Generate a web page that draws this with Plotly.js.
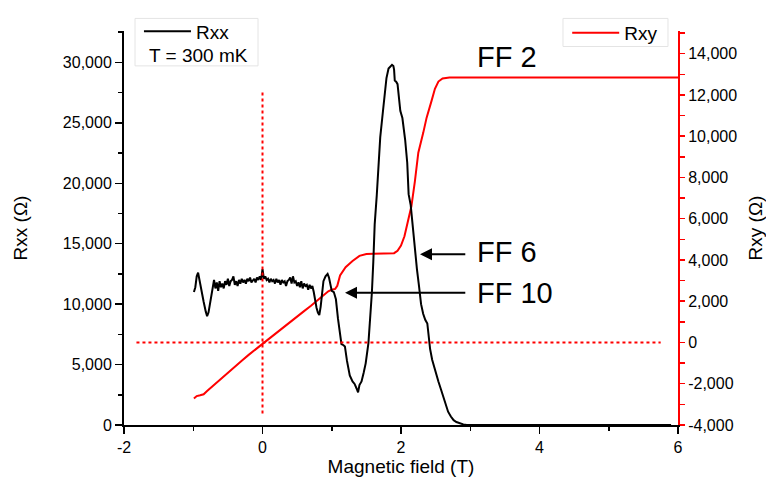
<!DOCTYPE html>
<html>
<head>
<meta charset="utf-8">
<script src="https://cdn.plot.ly/plotly-3.0.1.min.js"></script>
<style>html,body{margin:0;padding:0;background:#fff;}#chart{width:766px;height:492px;}</style>
</head>
<body>
<div id="chart"></div>
<script>
// Magnetic field (T) and Rxx (Ohm)
const rxxField = [-0.99,-0.97,-0.95,-0.93,-0.91,-0.88,-0.85,-0.82,-0.80,-0.78,-0.75,-0.72,-0.70,-0.68,-0.66,-0.64,-0.62,-0.60,-0.58,-0.56,-0.54,-0.52,-0.50,-0.48,-0.46,-0.44,-0.42,-0.40,-0.38,-0.36,-0.34,-0.32,-0.30,-0.28,-0.26,-0.24,-0.22,-0.20,-0.18,-0.16,-0.14,-0.12,-0.10,-0.08,-0.06,-0.04,-0.02,0.00,0.02,0.04,0.06,0.08,0.10,0.12,0.14,0.16,0.18,0.20,0.22,0.24,0.26,0.28,0.30,0.32,0.34,0.36,0.38,0.40,0.42,0.44,0.46,0.48,0.50,0.52,0.54,0.56,0.58,0.60,0.62,0.64,0.66,0.68,0.70,0.72,0.74,0.76,0.78,0.80,0.82,0.84,0.86,0.88,0.91,0.94,0.96,0.98,1.00,1.03,1.06,1.09,1.12,1.14,1.17,1.19,1.22,1.26,1.30,1.33,1.36,1.38,1.40,1.43,1.46,1.49,1.53,1.56,1.58,1.60,1.62,1.65,1.67,1.70,1.74,1.77,1.79,1.82,1.85,1.87,1.89,1.90,1.91,1.93,1.95,1.97,1.99,2.02,2.06,2.09,2.11,2.14,2.17,2.20,2.23,2.26,2.29,2.32,2.35,2.38,2.40,2.42,2.45,2.49,2.54,2.58,2.61,2.65,2.68,2.72,2.76,2.80,2.85,2.90,2.95,5.90];
const rxxValues = [11000,11400,12300,12600,12000,11000,10200,9400,9000,9300,10200,11200,12000,11300,11800,11100,11900,11400,11700,11300,11900,11600,12100,11500,11900,12000,12300,11600,11900,11500,12000,11700,12100,11800,12000,11700,12100,11900,12200,11800,12000,12100,11800,12200,12000,12300,12000,12900,12100,12300,12000,12100,11800,12100,11900,12000,11700,12100,11800,12000,11600,12000,11800,11900,11500,11900,12000,12200,11700,12300,11800,11900,11500,11800,11400,11900,11300,11700,11500,11600,11200,11600,11300,11500,11000,10300,9700,9300,9100,9800,10900,11900,12300,12500,12200,11500,11100,11000,10400,8800,7400,6700,6600,6500,5300,4100,3600,3400,3000,2700,3300,3600,4300,5100,6800,9000,11000,13500,16600,19000,20700,23800,26000,27600,28700,29500,29700,29800,29700,29400,28500,28400,28200,27000,26000,25400,23600,21700,19100,18200,16400,14400,12900,11500,10000,9200,8700,8400,7300,6300,5400,4500,3600,2900,2300,1600,1100,700,400,250,130,50,0,0];

// Magnetic field (T) and Rxy (Ohm)
const rxyField = [-0.99,-0.95,-0.90,-0.85,-0.80,-0.70,-0.60,-0.50,-0.40,-0.30,-0.20,-0.10,0.00,0.10,0.20,0.30,0.40,0.50,0.60,0.70,0.80,0.90,0.95,1.00,1.05,1.08,1.12,1.20,1.30,1.40,1.50,1.60,1.70,1.80,1.90,1.95,2.00,2.05,2.10,2.15,2.20,2.25,2.32,2.37,2.44,2.49,2.54,2.60,2.70,6.00];
const rxyValues = [-2720,-2600,-2560,-2510,-2350,-2050,-1750,-1480,-1180,-880,-600,-330,-80,190,470,740,1000,1270,1520,1780,2050,2330,2480,2560,2600,2750,3250,3650,3950,4200,4290,4300,4300,4310,4330,4450,4700,5150,5900,6600,7800,9200,10150,10900,11700,12300,12650,12800,12850,12850];

// Tick labels
const fieldTicks = [-2,0,2,4,6];
const fieldTickText = ['-2','0','2','4','6'];
const rxxTicks = [0,5000,10000,15000,20000,25000,30000];
const rxxTickText = ['0','5,000','10,000','15,000','20,000','25,000','30,000'];
const rxyTicks = [-4000,-3000,-2000,-1000,0,1000,2000,3000,4000,5000,6000,7000,8000,9000,10000,11000,12000,13000,14000,15000];
const rxyTickText = ['-4,000','','-2,000','','0','','2,000','','4,000','','6,000','','8,000','','10,000','','12,000','','14,000',''];

// Filling-factor labels
const ffLabels = ['FF 2','FF 6','FF 10'];

const FONT = 'Liberation Sans, Arial, sans-serif';

const traces = [
  {x: rxyField, y: rxyValues, name: 'Rxy', type: 'scatter', mode: 'lines',
   yaxis: 'y', legend: 'legend2', line: {color: '#ff0000', width: 2}},
  {x: rxxField, y: rxxValues, name: 'Rxx', type: 'scatter', mode: 'lines',
   yaxis: 'y2', legend: 'legend', line: {color: '#000000', width: 2}}
];

const layout = {
  width: 766, height: 492,
  margin: {l: 124, r: 88, t: 18, b: 67},
  paper_bgcolor: '#fff', plot_bgcolor: '#fff',
  font: {family: FONT, color: '#000', size: 16},
  xaxis: {
    range: [-2, 6], tickmode: 'array', tickvals: fieldTicks, ticktext: fieldTickText,
    ticks: 'outside', ticklen: 7, tickwidth: 1.5, tickcolor: '#000',
    showline: true, linecolor: '#000', linewidth: 2, showgrid: false, zeroline: false,
    minor: {dtick: 1, tick0: 0, ticks: 'outside', ticklen: 4, tickwidth: 1.5, tickcolor: '#000', showgrid: false},
    tickfont: {size: 16, family: FONT, color: '#000'},
    title: {text: 'Magnetic field (T)', font: {size: 19, family: FONT, color: '#000'}, standoff: 4}
  },
  yaxis: {
    range: [-4000, 15100], side: 'right', tickmode: 'array', tickvals: rxyTicks, ticktext: rxyTickText,
    ticks: 'outside', ticklen: 5, tickwidth: 1.5, tickcolor: '#ff0000',
    showline: true, linecolor: '#ff0000', linewidth: 2, showgrid: false, zeroline: false,
    tickfont: {size: 16, family: FONT, color: '#000000'},
    title: {text: 'Rxy (Ω)', font: {size: 19, family: FONT, color: '#000'}, standoff: 12}
  },
  yaxis2: {
    range: [0, 32600], side: 'left', overlaying: 'y', tickmode: 'array', tickvals: rxxTicks, ticktext: rxxTickText,
    ticks: 'outside', ticklen: 7, tickwidth: 1.5, tickcolor: '#000',
    showline: true, linecolor: '#000', linewidth: 2, showgrid: false, zeroline: false,
    minor: {dtick: 2500, tick0: 0, ticks: 'outside', ticklen: 4, tickwidth: 1.5, tickcolor: '#000', showgrid: false},
    tickfont: {size: 16, family: FONT, color: '#000'},
    title: {text: 'Rxx (Ω)', font: {size: 19, family: FONT, color: '#000'}, standoff: 30}
  },
  showlegend: true,
  legend: {x: 0.027, y: 0.9993, xanchor: 'left', yanchor: 'middle', bgcolor: 'rgba(0,0,0,0)',
           borderwidth: 0, font: {size: 19, family: FONT, color: '#000'}, itemwidth: 47},
  legend2: {x: 0.80, y: 0.9951, xanchor: 'left', yanchor: 'middle', bgcolor: 'rgba(0,0,0,0)',
           borderwidth: 0, font: {size: 19, family: FONT, color: '#000'}, itemwidth: 47},
  shapes: [
    {type: 'rect', xref: 'paper', yref: 'paper', x0: 0.0199, x1: 0.2419, y0: 0.9115, y1: 1.0319,
     line: {color: '#e4e4e4', width: 1}, fillcolor: 'rgba(0,0,0,0)'},
    {type: 'rect', xref: 'paper', yref: 'paper', x0: 0.7924, x1: 0.9819, y0: 0.9607, y1: 1.0319,
     line: {color: '#e4e4e4', width: 1}, fillcolor: 'rgba(0,0,0,0)'},
    {type: 'line', xref: 'x', yref: 'y2', x0: 0, x1: 0, y0: 960, y1: 27760,
     line: {color: '#ff0000', width: 2, dash: 'dot'}},
    {type: 'line', xref: 'x', yref: 'y', x0: -1.82, x1: 5.75, y0: 0, y1: 0,
     line: {color: '#ff0000', width: 2, dash: 'dot'}}
  ],
  annotations: [
    {xref: 'paper', yref: 'paper', x: 0.0415, y: 0.9378, xanchor: 'left', yanchor: 'middle',
     text: 'T = 300 mK', showarrow: false, font: {size: 19, family: FONT, color: '#000'}},
    {xref: 'x', yref: 'y2', x: 3.07, y: 30480, xanchor: 'left', yanchor: 'middle',
     text: ffLabels[0], showarrow: false, font: {size: 29, family: FONT, color: '#000'}},
    {xref: 'x', yref: 'y2', x: 3.07, y: 14320, xanchor: 'left', yanchor: 'middle',
     text: ffLabels[1], showarrow: false, font: {size: 29, family: FONT, color: '#000'}},
    {xref: 'x', yref: 'y2', x: 3.07, y: 10960, xanchor: 'left', yanchor: 'middle',
     text: ffLabels[2], showarrow: false, font: {size: 29, family: FONT, color: '#000'}},
    {xref: 'x', yref: 'y2', x: 2.274, y: 14136, axref: 'x', ayref: 'y2', ax: 2.95, ay: 14136,
     text: '', showarrow: true, arrowhead: 2, arrowsize: 1.2, arrowwidth: 2, arrowcolor: '#000'},
    {xref: 'x', yref: 'y2', x: 1.191, y: 10936, axref: 'x', ayref: 'y2', ax: 2.95, ay: 10936,
     text: '', showarrow: true, arrowhead: 2, arrowsize: 1.2, arrowwidth: 2, arrowcolor: '#000'}
  ]
};

Plotly.newPlot('chart', traces, layout, {displayModeBar: false, staticPlot: true});
</script>
</body>
</html>
